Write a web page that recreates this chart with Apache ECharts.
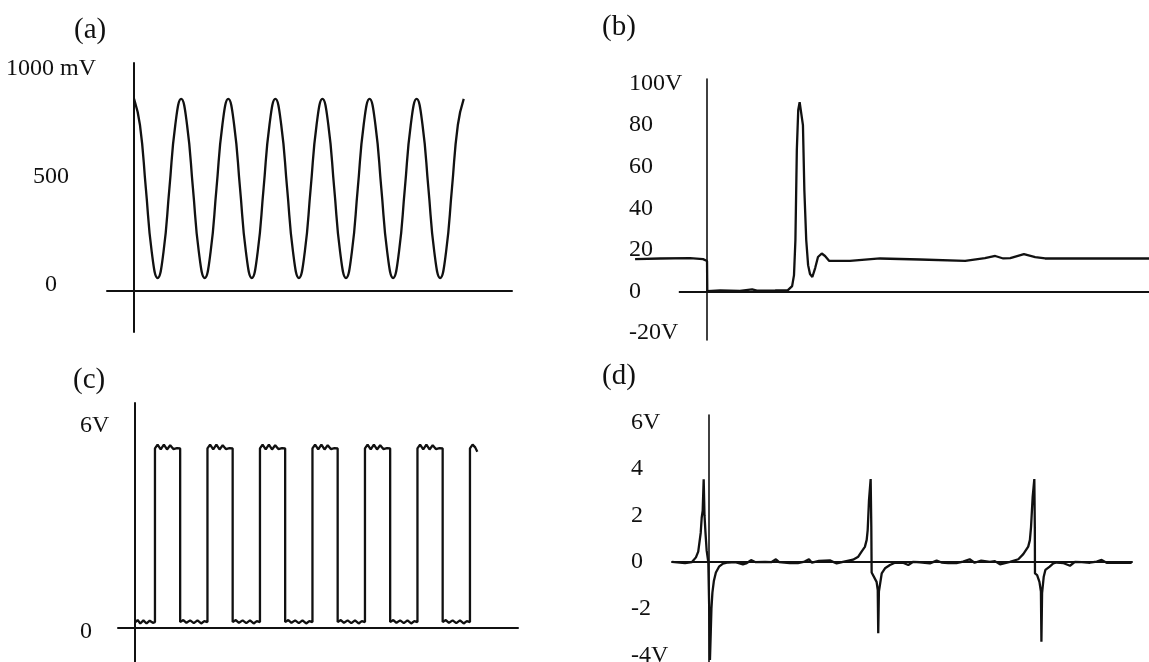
<!DOCTYPE html>
<html>
<head>
<meta charset="utf-8">
<script src="https://cdn.jsdelivr.net/npm/echarts@6.0.0/dist/echarts.min.js"></script>
<style>
html,body{margin:0;padding:0;background:#ffffff;}
#chart{width:1149px;height:662px;}
</style>
</head>
<body>
<div id="chart"></div>
<script>
// ---------- panel titles ----------
const panelLabels = ['(a)', '(b)', '(c)', '(d)'];

// ---------- tick labels ----------
const aTickValues = [0, 500, 1000];
const aTickText = ['0', '500', '1000 mV'];
const bTickValues = [-20, 0, 20, 40, 60, 80, 100];
const bTickText = ['-20V', '0', '20', '40', '60', '80', '100V'];
const cTickValues = [0, 6];
const cTickText = ['0', '6V'];
const dTickValues = [-4, -2, 0, 2, 4, 6];
const dTickText = ['-4V', '-2', '0', '2', '4', '6V'];

// ---------- (a) sine signal: time (1/8 period units), millivolts ----------
const aTime = [0,1,2,3,4,5,6,7,8,9,10,11,12,13,14,15,16,17,18,19,20,21,22,23,24,25,26,27,28,
  29,30,31,32,33,34,35,36,37,38,39,40,41,42,43,44,45,46,47,48,49,50,51,52,53,54,55,56];
const aMillivolt = [889,768,475,181,60,181,475,768,
  889,768,475,181,60,181,475,768,
  889,768,475,181,60,181,475,768,
  889,768,475,181,60,181,475,768,
  889,768,475,181,60,181,475,768,
  889,768,475,181,60,181,475,768,
  889,768,475,181,60,181,475,768,
  889];

// ---------- (b) pulse with 90 V spike: [time, volts] ----------
const bAxisSpan = [-6, 94];   // extent of the drawn time axis
const bPoints = [
  [-15.3,15.6],[-10,15.9],[-3.6,16.1],[-0.85,15.6],[0,14.7],[0.06,0.2],[2.8,0.5],[7.0,0.3],
  [9.6,1.0],[10.6,0.4],[14.5,0.5],[17.2,0.7],[18.1,2.6],[18.5,7.9],[18.8,24.8],[19.1,68],
  [19.4,87.3],[19.7,91.1],[20.1,90.4],[20.4,80],[20.7,48.8],[21.1,24.8],[21.5,12.7],[21.9,8.4],
  [22.4,7.0],[23.0,11.3],[23.6,16.6],[24.4,18.3],[25.1,17.1],[26.0,14.7],[30.4,14.7],[36.8,15.9],
  [45.3,15.4],[54.9,14.7],[59.1,16.1],[61.3,17.1],[63.0,15.9],[64.5,16.1],[67.4,18.0],[69.8,16.6],
  [71.9,15.9],[79.4,15.9],[87.9,15.9],[94.0,15.9]
];

// ---------- (c) square wave: [time, volts] ----------
const cPoints = [
  [0,0.16],[0.5,0.23],[1.0,0.13],[1.6,0.22],[2.2,0.13],[2.8,0.21],[3.4,0.15],[3.8,0.17],
  [3.8,5.22],[4.3,5.33],[4.9,5.19],[5.5,5.33],[6.1,5.19],[6.7,5.31],[7.3,5.2],[8.0,5.23],[8.6,5.22],
  [8.6,0.17],[9.2,0.23],[9.8,0.15],[10.5,0.22],[11.2,0.14],[11.9,0.22],[12.6,0.13],[13.2,0.2],[13.8,0.17],
  [13.8,5.22],[14.3,5.33],[14.9,5.19],[15.5,5.33],[16.1,5.19],[16.7,5.31],[17.3,5.2],[18.0,5.23],[18.6,5.22],
  [18.6,0.17],[19.2,0.23],[19.8,0.15],[20.5,0.22],[21.2,0.14],[21.9,0.22],[22.6,0.13],[23.2,0.2],[23.8,0.17],
  [23.8,5.22],[24.3,5.33],[24.9,5.19],[25.5,5.33],[26.1,5.19],[26.7,5.31],[27.3,5.2],[28.0,5.23],[28.6,5.22],
  [28.6,0.17],[29.2,0.23],[29.8,0.15],[30.5,0.22],[31.2,0.14],[31.9,0.22],[32.6,0.13],[33.2,0.2],[33.8,0.17],
  [33.8,5.22],[34.3,5.33],[34.9,5.19],[35.5,5.33],[36.1,5.19],[36.7,5.31],[37.3,5.2],[38.0,5.23],[38.6,5.22],
  [38.6,0.17],[39.2,0.23],[39.8,0.15],[40.5,0.22],[41.2,0.14],[41.9,0.22],[42.6,0.13],[43.2,0.2],[43.8,0.17],
  [43.8,5.22],[44.3,5.33],[44.9,5.19],[45.5,5.33],[46.1,5.19],[46.7,5.31],[47.3,5.2],[48.0,5.23],[48.6,5.22],
  [48.6,0.17],[49.2,0.23],[49.8,0.15],[50.5,0.22],[51.2,0.14],[51.9,0.22],[52.6,0.13],[53.2,0.2],[53.8,0.17],
  [53.8,5.22],[54.3,5.33],[54.9,5.19],[55.5,5.33],[56.1,5.19],[56.7,5.31],[57.3,5.2],[58.0,5.23],[58.6,5.22],
  [58.6,0.17],[59.2,0.23],[59.8,0.15],[60.5,0.22],[61.2,0.14],[61.9,0.22],[62.6,0.13],[63.2,0.2],[63.8,0.17],
  [63.8,5.22],[64.3,5.33],[64.8,5.25],[65.2,5.12]
];

// ---------- (d) differentiated spikes: [time, volts] ----------
const dPoints = [
  [-22.4,0.01],[-14.5,-0.05],[-10.3,0.0],[-7.9,0.2],[-6.5,0.45],[-5.0,1.25],[-4.4,1.9],[-3.8,2.2],
  [-3.2,3.55],[-2.7,2.0],[-2.1,1.25],[-1.4,0.5],[-0.4,0],[0.1,-1.8],[0.6,-4.2],[1.1,-3.0],[1.5,-2.0],
  [2.1,-1.3],[3.0,-0.8],[4.2,-0.45],[6.1,-0.2],[8.5,-0.07],[11.5,-0.02],
  [16,0.0],[20.6,-0.1],[22.5,-0.06],[25.5,0.08],[28,0.0],[34,0.01],[38,0.0],[40.6,0.12],[42.5,0.0],
  [49,-0.05],[53.9,-0.05],[58,0.02],[60.6,0.12],[62.4,-0.03],[66.7,0.05],[67.3,0.02],[73.3,0.07],
  [77.4,-0.06],[81.2,0.01],
  [87.3,0.1],[90.5,0.23],[92.5,0.45],[94.5,0.65],[95.6,0.95],[96.2,1.37],[97.0,2.66],[98.0,3.56],
  [98.4,1.5],[98.6,-0.45],[99.6,-0.5],[101.6,-0.85],[102.3,-1.2],[102.6,-3.06],[103.0,-1.27],
  [104.7,-0.49],[106.7,-0.27],[109.7,-0.13],[112.7,-0.03],[117.6,-0.03],[120.8,-0.13],[123.8,0.01],
  [127.9,-0.01],[133.9,-0.06],
  [138,0.06],[141,-0.02],[145,-0.05],[150,-0.05],[154,0.02],[158,0.12],[161,-0.03],[165,0.06],
  [170.3,0.01],[173.3,0.04],[176.4,-0.1],[182.4,0.01],
  [187.5,0.12],[190.5,0.34],[193.5,0.66],[194.5,0.94],[195.2,1.5],[196.2,2.8],[197.2,3.56],
  [197.5,1.5],[197.6,-0.49],[198.9,-0.56],[200.3,-0.85],[201.2,-1.27],[201.5,-3.42],[201.9,-1.34],
  [202.9,-0.63],[203.9,-0.34],[206.5,-0.2],[208.7,-0.06],[210.7,-0.02],[215,-0.05],[218.8,-0.16],
  [221.8,0.01],[226,0.0],[230.9,-0.03],[235,0.02],[238,0.09],[241,-0.03],[250,-0.02],[256.2,-0.03]
];

// ---------- build chart ----------
const INK = '#111111';
const FONT = '"Liberation Serif", "Times New Roman", serif';

function yAxisFor(idx, min, max, tickValues, tickText, align, margin, vAlign, lineH, lineWidth) {
  return {
    gridIndex: idx, type: 'value', min: min, max: max,
    axisLine: { show: true, onZero: true, lineStyle: { color: INK, width: lineWidth } },
    axisTick: { show: false },
    splitLine: { show: false },
    axisLabel: {
      show: true,
      customValues: tickValues,
      formatter: function (v) {
        const k = tickValues.indexOf(v);
        return k >= 0 ? tickText[k] : '';
      },
      align: align, margin: margin, verticalAlign: vAlign, lineHeight: lineH,
      color: INK, fontFamily: FONT, fontSize: 24
    }
  };
}
function xAxisFor(idx, min, max, showLine) {
  return {
    gridIndex: idx, type: 'value', min: min, max: max,
    axisLine: { show: showLine, onZero: true, lineStyle: { color: INK, width: 2 } },
    axisTick: { show: false },
    axisLabel: { show: false },
    splitLine: { show: false }
  };
}
function lineSeries(idx, data, smooth) {
  return {
    type: 'line', xAxisIndex: idx, yAxisIndex: idx, data: data,
    showSymbol: false, symbol: 'none', smooth: smooth, clip: false, silent: true,
    lineStyle: { color: INK, width: 2.3 }, z: 3
  };
}

const titleLeft = [74, 602, 73, 602];
const titleTop = [16, 13, 366, 362];

const seriesB = lineSeries(1, bPoints, false);
seriesB.markLine = {
  silent: true, symbol: ['none', 'none'], label: { show: false }, animation: false,
  lineStyle: { color: INK, width: 2, type: 'solid' },
  emphasis: { disabled: true },
  data: [[{ coord: [bAxisSpan[0], 0] }, { coord: [bAxisSpan[1], 0] }]]
};

const option = {
  backgroundColor: '#ffffff',
  animation: false,
  title: panelLabels.map(function (t, i) {
    return { text: t, left: titleLeft[i], top: titleTop[i], padding: 0,
      textStyle: { fontFamily: FONT, fontSize: 29, fontWeight: 'normal', color: INK } };
  }),
  grid: [
    { left: 107, top: 63, width: 405, height: 269, outerBoundsMode: 'none' },
    { left: 634, top: 79, width: 515, height: 261, outerBoundsMode: 'none' },
    { left: 118, top: 403, width: 400, height: 259, outerBoundsMode: 'none' },
    { left: 672, top: 415, width: 460, height: 247, outerBoundsMode: 'none' }
  ],
  xAxis: [
    xAxisFor(0, -4.6, 64.2, true),
    xAxisFor(1, -15.53, 94, false),
    xAxisFor(2, -3.24, 72.95, true),
    xAxisFor(3, -22.4, 256.4, true)
  ],
  yAxis: [
    yAxisFor(0, -190, 1055, aTickValues, aTickText, 'center', 56, 'bottom', 12, 2),
    yAxisFor(1, -23.3, 102.2, bTickValues, bTickText, 'left', 5, 'middle', 24, 1.6),
    yAxisFor(2, -0.99, 6.54, cTickValues, cTickText, 'left', 38, 'top', 8, 2),
    yAxisFor(3, -4.29, 6.31, dTickValues, dTickText, 'left', 41, 'middle', 24, 1.6)
  ],
  series: [
    lineSeries(0, aTime.map(function (t, i) { return [t, aMillivolt[i]]; }), true),
    seriesB,
    lineSeries(2, cPoints, false),
    lineSeries(3, dPoints, false)
  ]
};

const chart = echarts.init(document.getElementById('chart'), null, { renderer: 'canvas' });
chart.setOption(option);
</script>
</body>
</html>
